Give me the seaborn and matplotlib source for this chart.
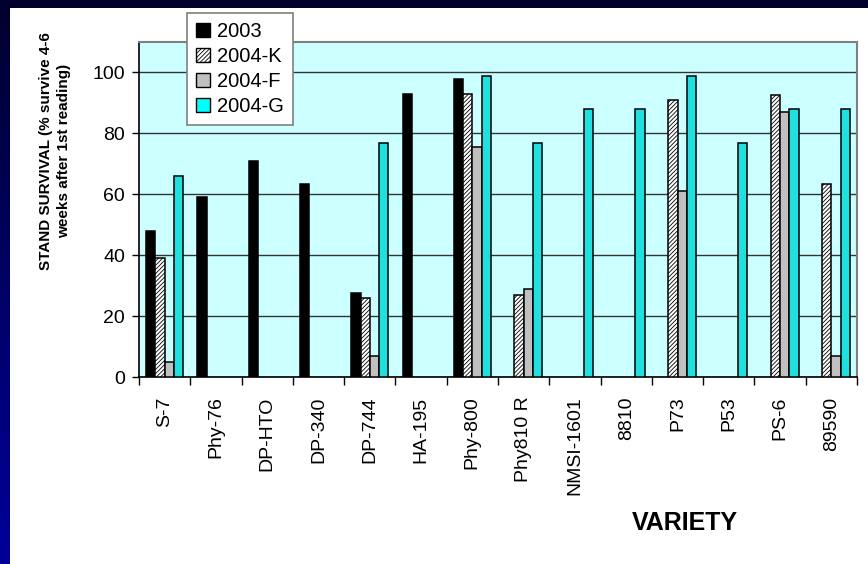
import pandas as pd
import matplotlib.pyplot as plt
import seaborn as sns
import numpy as np
from matplotlib.patches import Patch
from matplotlib.colors import LinearSegmentedColormap

# data
varieties = ['S-7', 'Phy-76', 'DP-HTO', 'DP-340', 'DP-744', 'HA-195', 'Phy-800',
             'Phy810 R', 'NMSI-1601', '8810', 'P73', 'P53', 'PS-6', '89590']
y2003 = [48, 59, 71, 63.5, 27.5, 93, 98, None, None, None, None, None, None, None]
y2004_k = [39, None, None, None, 26, None, 93, 27, None, None, 91, None, 92.5, 63.5]
y2004_f = [5, None, None, None, 7, None, 75.5, 29, None, None, 61, None, 87, 7]
y2004_g = [66, None, None, None, 77, None, 99, 77, 88, 88, 99, 77, 88, 88]
series = ['2003', '2004-K', '2004-F', '2004-G']
colors = ['#000000', '#ffffff', '#c0c0c0', '#00ffff']

rows = []
for name, vals in zip(series, [y2003, y2004_k, y2004_f, y2004_g]):
    for v, val in zip(varieties, vals):
        rows.append({'variety': v, 'series': name, 'value': val})
df = pd.DataFrame(rows)

sns.set_style("white")
plt.rcParams['font.family'] = ['Liberation Sans', 'DejaVu Sans']
plt.rcParams['hatch.linewidth'] = 0.6
for k in ['text.color', 'xtick.color', 'ytick.color', 'axes.labelcolor']:
    plt.rcParams[k] = 'black'

fig = plt.figure(figsize=(8.68, 5.64), dpi=100)
fig.patch.set_facecolor('white')

# slide background: dark top band and blue gradient on the left
band = fig.add_axes([0, 1 - 8 / 564, 1, 8 / 564])
band.add_patch(plt.Rectangle((0, 0), 1, 1, color='#00002a', transform=band.transAxes))
band.set_axis_off()
side = fig.add_axes([0, 0, 10 / 868, 1])
grad = np.linspace(0, 1, 256).reshape(-1, 1)
cmap = LinearSegmentedColormap.from_list('slide', ['#000099', '#00002e'])
side.imshow(grad, aspect='auto', cmap=cmap, origin='lower', extent=[0, 1, 0, 1])
side.set_axis_off()

ax = fig.add_axes([139 / 868, 1 - 377 / 564, (857 - 139) / 868, (377 - 42) / 564])
ax.set_facecolor('#ccffff')

sns.barplot(data=df, x='variety', y='value', hue='series', hue_order=series,
            order=varieties, palette=colors, width=0.72, gap=0,
            edgecolor='black', linewidth=1.1, legend=False, ax=ax, zorder=3)

for i, cont in enumerate(ax.containers):
    for bar in cont:
        bar.set_edgecolor('black')
        if series[i] == '2004-K':
            bar.set_hatch('////////')

ax.set_ylim(0, 110)
ax.set_xlim(-0.5, len(varieties) - 0.5)
ax.set_yticks(range(0, 101, 20))
ax.yaxis.grid(True, color='#333333', linewidth=1.0, zorder=0)
ax.set_axisbelow(True)

ax.set_xticks(range(len(varieties)))
ax.set_xticklabels(varieties, rotation=90, fontsize=14)
ax.set_xticks(np.arange(-0.5, len(varieties), 1), minor=True)
ax.tick_params(axis='x', which='major', length=0, pad=14)
ax.tick_params(axis='x', which='minor', length=6, width=1, color='black', direction='out', bottom=True)
ax.tick_params(axis='y', labelsize=14, length=5, width=1, color='black', direction='out', left=True, pad=5)

for s in ['left', 'bottom']:
    ax.spines[s].set_color('black')
    ax.spines[s].set_linewidth(1.2)
for s in ['top', 'right']:
    ax.spines[s].set_color('#808080')
    ax.spines[s].set_linewidth(1.5)

ax.set_xlabel('')
ax.set_ylabel('')

fig.text(55 / 868, 1 - 151 / 564, 'STAND SURVIVAL (% survive 4-6\nweeks after 1st reading)',
         rotation=90, ha='center', va='center', multialignment='center',
         fontsize=11, fontweight='bold', linespacing=1.3)
fig.text(685 / 868, 1 - 523 / 564, 'VARIETY', ha='center', va='center',
         fontsize=18, fontweight='bold')

handles = []
for name, c in zip(series, colors):
    if name == '2004-K':
        handles.append(Patch(facecolor='white', edgecolor='black', hatch='////////', label=name))
    else:
        handles.append(Patch(facecolor=c, edgecolor='black', label=name))
leg = fig.legend(handles=handles, loc='upper left',
                 bbox_to_anchor=(187 / 868, 1 - 13 / 564), fontsize=14.5,
                 frameon=True, fancybox=False, framealpha=1,
                 handlelength=0.7, handleheight=0.7, handletextpad=0.35,
                 borderpad=0.45, labelspacing=0.3, borderaxespad=0)
leg.get_frame().set_edgecolor('#808080')
leg.get_frame().set_linewidth(1.2)
leg.set_zorder(10)

fig.savefig('out.png', dpi=100)
